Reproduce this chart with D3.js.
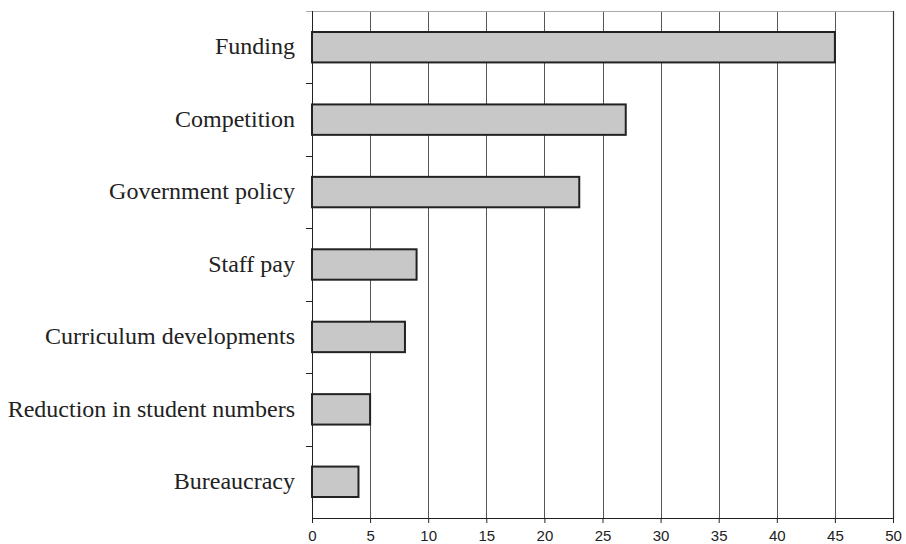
<!DOCTYPE html>
<html>
<head>
<meta charset="utf-8">
<script src="https://cdn.jsdelivr.net/npm/d3@7"></script>
<style>
  body { margin: 0; background: #fff; }
</style>
</head>
<body>
<div id="chart-area"></div>
<script>
var categories = ["Funding", "Competition", "Government policy", "Staff pay",
    "Curriculum developments", "Reduction in student numbers", "Bureaucracy"];
var values = [45, 27, 23, 9, 8, 5, 4];
var xTicks = [0, 5, 10, 15, 20, 25, 30, 35, 40, 45, 50];

var margin = { top: 11, right: 13, bottom: 26, left: 312 },
    width = 906 - margin.left - margin.right,
    height = 544 - margin.top - margin.bottom;

var svg = d3.select("#chart-area")
    .append("svg")
    .attr("width", 906)
    .attr("height", 544)
    .style("display", "block")
    .append("g")
    .attr("transform", `translate(${margin.left},${margin.top})`);

var x = d3.scaleLinear().domain([0, 50]).range([0, width]);
var y = d3.scaleBand().domain(categories).range([0, height]).paddingInner(0.58).paddingOuter(0.29);
var yEdges = d3.scaleBand().domain(categories).range([0, height]);

// vertical grid lines
svg.selectAll(".grid")
    .data(xTicks.slice(1, -1))
    .enter()
    .append("line")
    .attr("class", "grid")
    .attr("x1", d => Math.round(x(d)) + 0.5)
    .attr("x2", d => Math.round(x(d)) + 0.5)
    .attr("y1", 0)
    .attr("y2", height)
    .attr("stroke", "#555")
    .attr("stroke-width", 1);

// top frame line (light) and right frame line
svg.append("line")
    .attr("x1", -6).attr("x2", width)
    .attr("y1", 0.5).attr("y2", 0.5)
    .attr("stroke", "#aaa");

svg.append("line")
    .attr("x1", width + 0.5).attr("x2", width + 0.5)
    .attr("y1", 0).attr("y2", height)
    .attr("stroke", "#333")
    .attr("stroke-width", 1.2);

// bars
svg.selectAll(".bar")
    .data(values)
    .enter()
    .append("rect")
    .attr("class", "bar")
    .attr("x", x(0))
    .attr("y", (d, i) => y(categories[i]))
    .attr("width", d => x(d) - x(0))
    .attr("height", y.bandwidth())
    .attr("fill", "#c8c8c8")
    .attr("stroke", "#222")
    .attr("stroke-width", 2);

// y axis: line plus ticks at category boundaries
svg.append("line")
    .attr("x1", 0.5).attr("x2", 0.5)
    .attr("y1", 0).attr("y2", height + 5)
    .attr("stroke", "#222");

svg.selectAll(".ytick")
    .data(categories.slice(1))
    .enter()
    .append("line")
    .attr("class", "ytick")
    .attr("x1", -6).attr("x2", 0)
    .attr("y1", d => Math.round(yEdges(d)) + 0.5)
    .attr("y2", d => Math.round(yEdges(d)) + 0.5)
    .attr("stroke", "#222");

svg.selectAll(".ylabel")
    .data(categories)
    .enter()
    .append("text")
    .attr("class", "ylabel")
    .attr("x", -17)
    .attr("y", d => y(d) + y.bandwidth() / 2)
    .attr("dy", "0.3em")
    .attr("text-anchor", "end")
    .attr("font-family", "'Liberation Serif', 'Times New Roman', serif")
    .attr("font-size", "24px")
    .attr("fill", "#222")
    .text(d => d);

// x axis
var xAxis = d3.axisBottom(x)
    .tickValues(xTicks)
    .tickSize(5)
    .tickSizeOuter(0)
    .tickPadding(7);

var gx = svg.append("g")
    .attr("class", "x-axis")
    .attr("transform", `translate(0,${height})`)
    .call(xAxis);

gx.select(".domain").attr("stroke", "#222");
gx.selectAll(".tick line").attr("stroke", "#222");
gx.selectAll(".tick text")
    .attr("font-family", "'Liberation Sans', Arial, sans-serif")
    .attr("font-size", "15px")
    .attr("fill", "#222");
</script>
</body>
</html>
